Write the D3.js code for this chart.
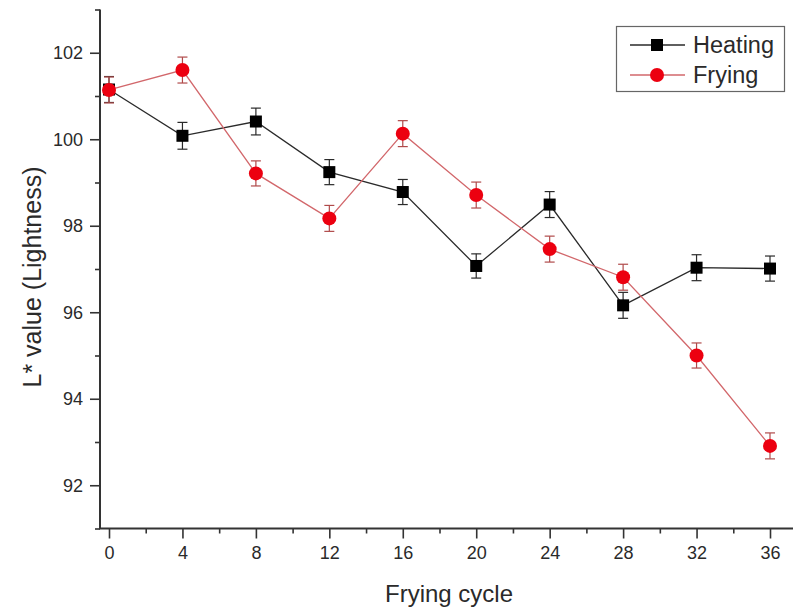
<!DOCTYPE html>
<html>
<head>
<meta charset="utf-8">
<script src="https://cdn.jsdelivr.net/npm/d3@7/dist/d3.min.js"></script>
<style>
  html, body { margin: 0; padding: 0; background: #fff; }
  svg { display: block; }
  text { font-family: Arial, "Liberation Sans", sans-serif; fill: #2a2a2a; }
</style>
</head>
<body>
<svg id="chart" width="793" height="612"></svg>
<script>
// Frying cycles (x values)
const cycles = [0, 4, 8, 12, 16, 20, 24, 28, 32, 36];
// L* values, heating only
const heating = [101.15, 100.08, 100.41, 99.24, 98.78, 97.07, 98.49, 96.16, 97.03, 97.01];
const heatingErr = [0.30, 0.31, 0.31, 0.29, 0.29, 0.28, 0.30, 0.30, 0.30, 0.29];
// L* values, frying
const frying = [101.14, 101.60, 99.21, 98.17, 100.13, 98.71, 97.46, 96.81, 95.00, 92.91];
const fryingErr = [0.30, 0.30, 0.29, 0.30, 0.30, 0.30, 0.30, 0.30, 0.29, 0.30];
// Axis ticks
const xTicks = [0, 4, 8, 12, 16, 20, 24, 28, 32, 36];
const xMinor = [2, 6, 10, 14, 18, 22, 26, 30, 34];
const yTicks = [92, 94, 96, 98, 100, 102];
const yMinor = [91, 93, 95, 97, 99, 101, 103];
const seriesNames = ["Heating", "Frying"];

const svg = d3.select("#chart");

const x = d3.scaleLinear().domain([0, 36]).range([109, 770]);
const y = d3.scaleLinear().domain([91, 103]).range([528.5, 9.5]);

const axisColor = "#333";

// Y axis
const yAxis = svg.append("g").attr("transform", `translate(${x(-0.49)},0)`);
yAxis.call(d3.axisLeft(y).tickValues(yTicks).tickSize(10).tickPadding(7).tickFormat(d3.format("d")));
yAxis.append("g").call(d3.axisLeft(y).tickValues(yMinor).tickSize(5).tickFormat(""));
yAxis.selectAll(".domain").remove();
yAxis.append("line").attr("x1", 0).attr("x2", 0).attr("y1", y(103)).attr("y2", y(91))
  .attr("stroke", axisColor).attr("stroke-width", 2);
yAxis.selectAll(".tick line").attr("stroke", axisColor).attr("stroke-width", 1.6);
yAxis.selectAll(".tick text").attr("font-size", 18).attr("fill", "#333");

// X axis
const xAxis = svg.append("g").attr("transform", `translate(0,${y(91)})`);
xAxis.call(d3.axisBottom(x).tickValues(xTicks).tickSize(10).tickPadding(8).tickFormat(d3.format("d")));
xAxis.append("g").call(d3.axisBottom(x).tickValues(xMinor).tickSize(5).tickFormat(""));
xAxis.selectAll(".domain").remove();
xAxis.append("line").attr("x1", x(-0.49) - 1).attr("x2", 793).attr("y1", 0).attr("y2", 0)
  .attr("stroke", axisColor).attr("stroke-width", 2);
xAxis.selectAll(".tick line").attr("stroke", axisColor).attr("stroke-width", 1.6);
xAxis.selectAll(".tick text").attr("font-size", 18).attr("fill", "#333");

// Axis titles
svg.append("text")
  .attr("x", 449).attr("y", 602)
  .attr("text-anchor", "middle")
  .attr("font-size", 24)
  .text("Frying cycle");

svg.append("text")
  .attr("transform", `translate(41,277) rotate(-90)`)
  .attr("text-anchor", "middle")
  .attr("font-size", 25)
  .text("L* value (Lightness)");

// Series drawing
const series = [
  { name: seriesNames[0], values: heating, err: heatingErr, line: "#2a2a2a", err_c: "#2a2a2a", fill: "#000", shape: "square" },
  { name: seriesNames[1], values: frying, err: fryingErr, line: "#d2676b", err_c: "#b04a4a", fill: "#ec0010", shape: "circle" }
];

const line = d3.line().x(d => x(d[0])).y(d => y(d[1]));

function drawMarker(g, shape, cx, cy, fill) {
  if (shape === "square") {
    g.append("rect").attr("x", cx - 6).attr("y", cy - 6).attr("width", 12).attr("height", 12).attr("fill", fill);
  } else {
    g.append("circle").attr("cx", cx).attr("cy", cy).attr("r", 7).attr("fill", fill);
  }
}

// Heating first, frying drawn on top
series.forEach(s => {
  const pts = cycles.map((c, i) => [c, s.values[i]]);
  const g = svg.append("g");
  g.append("path").datum(pts).attr("d", line).attr("fill", "none")
    .attr("stroke", s.line).attr("stroke-width", 1.3);
  // error bars
  pts.forEach((p, i) => {
    const cx = x(p[0]);
    const y1 = y(p[1] + s.err[i]), y2 = y(p[1] - s.err[i]);
    g.append("line").attr("x1", cx).attr("x2", cx).attr("y1", y1).attr("y2", y2)
      .attr("stroke", s.err_c).attr("stroke-width", 1.2);
    [y1, y2].forEach(yy => g.append("line").attr("x1", cx - 5).attr("x2", cx + 5)
      .attr("y1", yy).attr("y2", yy).attr("stroke", s.err_c).attr("stroke-width", 1.2));
  });
  pts.forEach(p => drawMarker(g, s.shape, x(p[0]), y(p[1]), s.fill));
});

// Legend
const legend = svg.append("g");
legend.append("rect").attr("x", 616.5).attr("y", 26.5).attr("width", 168).attr("height", 65)
  .attr("fill", "#fff").attr("stroke", "#666").attr("stroke-width", 1.2);
series.forEach((s, i) => {
  const ly = 45 + i * 30;
  legend.append("line").attr("x1", 630).attr("x2", 685).attr("y1", ly).attr("y2", ly)
    .attr("stroke", s.line).attr("stroke-width", 1.3);
  drawMarker(legend, s.shape, 657, ly, s.fill);
  legend.append("text").attr("x", 693).attr("y", ly + 8).attr("font-size", 23.5).text(s.name);
});
</script>
</body>
</html>
